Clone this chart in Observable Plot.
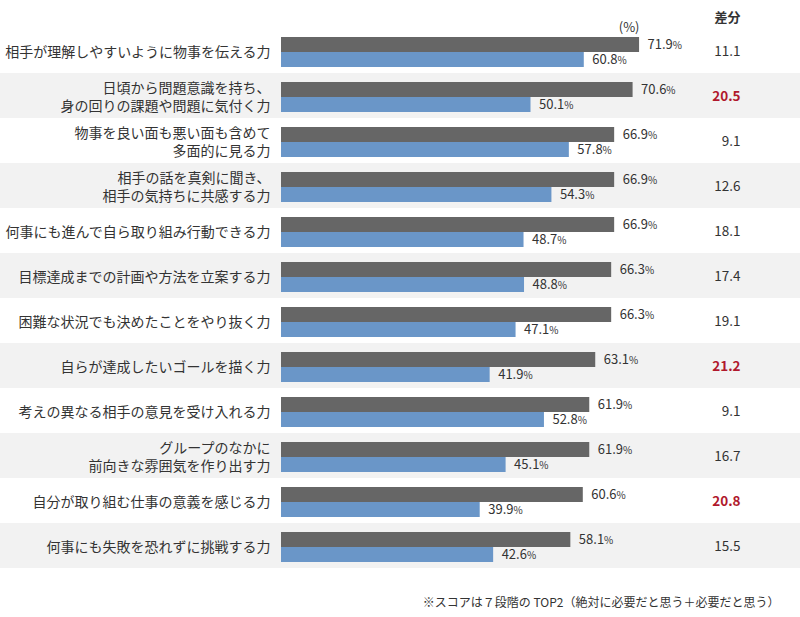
<!DOCTYPE html>
<html>
<head>
<meta charset="utf-8">
<script src="https://cdn.jsdelivr.net/npm/d3@7"></script>
<script src="https://cdn.jsdelivr.net/npm/@observablehq/plot@0.6"></script>
<style>
  html, body { margin: 0; padding: 0; background: #fff; }
  #chart svg { display: block; }
</style>
</head>
<body>
<div id="chart"></div>
<script>
const categories = [
  "相手が理解しやすいように物事を伝える力",
  "日頃から問題意識を持ち、\n身の回りの課題や問題に気付く力",
  "物事を良い面も悪い面も含めて\n多面的に見る力",
  "相手の話を真剣に聞き、\n相手の気持ちに共感する力",
  "何事にも進んで自ら取り組み行動できる力",
  "目標達成までの計画や方法を立案する力",
  "困難な状況でも決めたことをやり抜く力",
  "自らが達成したいゴールを描く力",
  "考えの異なる相手の意見を受け入れる力",
  "グループのなかに\n前向きな雰囲気を作り出す力",
  "自分が取り組む仕事の意義を感じる力",
  "何事にも失敗を恐れずに挑戦する力"
];
const seriesA = [71.9, 70.6, 66.9, 66.9, 66.9, 66.3, 66.3, 63.1, 61.9, 61.9, 60.6, 58.1];
const seriesB = [60.8, 50.1, 57.8, 54.3, 48.7, 48.8, 47.1, 41.9, 52.8, 45.1, 39.9, 42.6];
const diffs   = [11.1, 20.5, 9.1, 12.6, 18.1, 17.4, 19.1, 21.2, 9.1, 16.7, 20.8, 15.5];
const diffHeader = "差分";
const unitLabel = "(%)";
const note = "※スコアは７段階の TOP2（絶対に必要だと思う＋必要だと思う）";

const rows = categories.map((name, i) => ({name, a: seriesA[i], b: seriesB[i], diff: diffs[i], i}));

const GRAY = "#666666", BLUE = "#6a96c8", RED = "#b0182c", TXT = "#333333";

const plot = Plot.plot({
  width: 800,
  height: 617,
  marginLeft: 281,
  marginRight: 21,
  marginTop: 28,
  marginBottom: 49,
  style: {fontFamily: "'Noto Sans CJK JP', 'Noto Sans', sans-serif", background: "#fff"},
  x: {domain: [0, 100], axis: null},
  y: {domain: categories, padding: 0, axis: null},
  marks: [
    Plot.barX(rows.filter(d => d.i % 2 === 1), {x1: 0, x2: 100, y: "name", fill: "#f2f2f2", insetLeft: -281, insetRight: -21}),
    Plot.barX(rows, {x: "a", y: "name", fill: GRAY, insetTop: 9, insetBottom: 21}),
    Plot.barX(rows, {x: "b", y: "name", fill: BLUE, insetTop: 24, insetBottom: 6}),
    Plot.text(rows, {x: "a", y: "name", text: d => d.a.toFixed(1), textAnchor: "start", dx: 8, dy: -6, fill: TXT, fontSize: 13}),
    Plot.text(rows, {x: "b", y: "name", text: d => d.b.toFixed(1), textAnchor: "start", dx: 8, dy: 9, fill: TXT, fontSize: 13}),
    Plot.text(rows, {x: 0, y: "name", text: "name", textAnchor: "end", dx: -11, dy: 0, fill: TXT, fontSize: 14, lineHeight: 1.27}),
    Plot.text(rows.filter(d => d.diff < 20), {y: "name", text: d => d.diff.toFixed(1), frameAnchor: "right", dx: -39, dy: 1, fill: TXT, fontSize: 13.5}),
    Plot.text(rows.filter(d => d.diff >= 20), {y: "name", text: d => d.diff.toFixed(1), frameAnchor: "right", dx: -39, dy: 1, fill: RED, fontSize: 13.5, fontWeight: 600}),
    Plot.text([diffHeader], {frameAnchor: "top-right", dx: -39, dy: -16, fill: TXT, fontSize: 13, fontWeight: 700}),
    Plot.text([unitLabel], {frameAnchor: "top-right", textAnchor: "end", dx: -140, dy: -6, fill: TXT, fontSize: 13}),
    Plot.text([note], {frameAnchor: "bottom-right", textAnchor: "end", dx: 0, dy: 38, fill: TXT, fontSize: 12})
  ]
});

d3.select(plot).selectAll("g[text-anchor='start'] text").each(function() {
  d3.select(this).append("tspan").attr("font-size", 10).text("%");
});

document.getElementById("chart").appendChild(plot);
</script>
</body>
</html>
